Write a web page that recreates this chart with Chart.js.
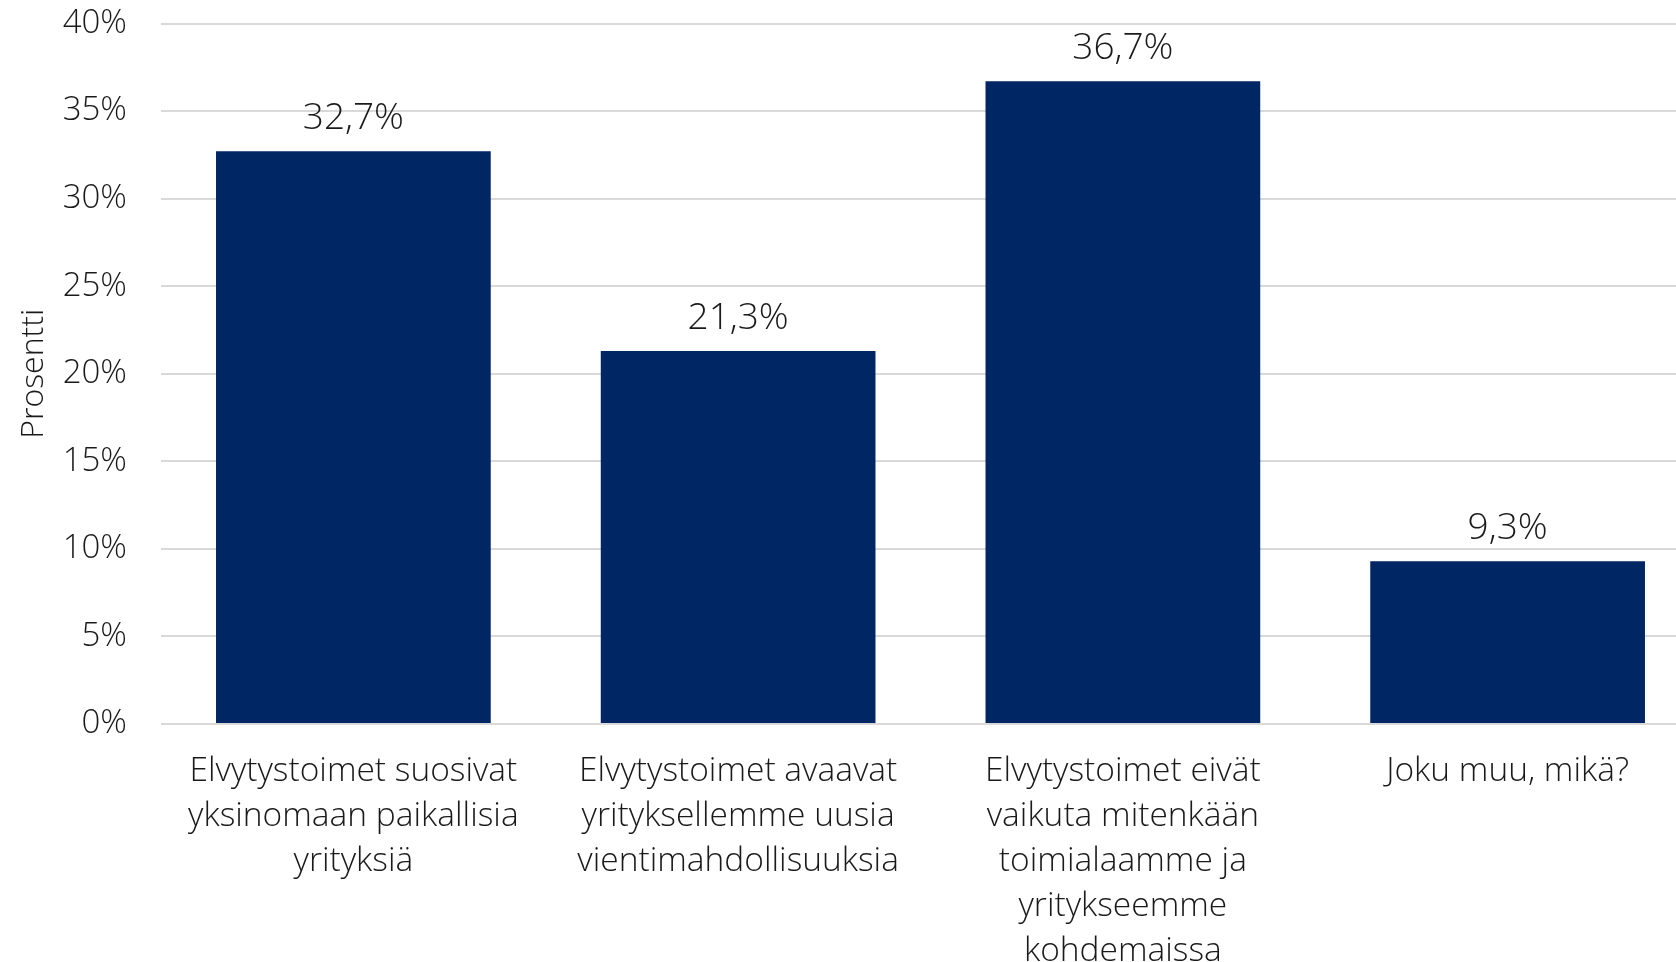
<!DOCTYPE html>
<html>
<head>
<meta charset="utf-8">
<script src="https://cdn.jsdelivr.net/npm/chart.js@4"></script>
<style>
  html, body { margin: 0; padding: 0; background: #fff; overflow: hidden; }
  #wrap { width: 1700px; height: 962px; position: relative; }
</style>
</head>
<body>
<div id="wrap"><canvas id="myChart"></canvas></div>
<script>
const ctx = document.querySelector("#myChart");

// kategoriat (rivitetty kuten alkuperäisessä)
const categories = [
  ["Elvytystoimet suosivat", "yksinomaan paikallisia", "yrityksiä"],
  ["Elvytystoimet avaavat", "yrityksellemme uusia", "vientimahdollisuuksia"],
  ["Elvytystoimet eivät", "vaikuta mitenkään", "toimialaamme ja", "yritykseemme", "kohdemaissa"],
  ["Joku muu, mikä?"],
];
const values = [32.7, 21.3, 36.7, 9.3];
const yTicks = [0, 5, 10, 15, 20, 25, 30, 35, 40];

const FONT = "'Open Sans', 'Segoe UI', sans-serif";
const TEXT = "#1a1a1a";

// arvot palkkien päälle
const valueLabels = {
  id: "valueLabels",
  afterDatasetsDraw(chart) {
    const c = chart.ctx;
    const meta = chart.getDatasetMeta(0);
    c.save();
    c.font = "300 37px " + FONT;
    c.fillStyle = TEXT;
    c.textAlign = "center";
    c.textBaseline = "bottom";
    meta.data.forEach((bar, i) => {
      const txt = values[i].toFixed(1).replace(".", ",") + "%";
      c.fillText(txt, bar.x, bar.y - 14);
    });
    c.restore();
  },
};

const data = {
  labels: categories,
  datasets: [
    {
      data: values,
      backgroundColor: "#002663",
      barPercentage: 0.714,
      categoryPercentage: 1,
    },
  ],
};

const config = {
  type: "bar",
  data: data,
  plugins: [valueLabels],
  options: {
    responsive: true,
    maintainAspectRatio: false,
    animation: false,
    layout: { padding: { top: 23.5, right: 0, left: 0, bottom: 0 } },
    plugins: {
      legend: { display: false },
      tooltip: { enabled: false },
    },
    scales: {
      x: {
        grid: { display: false, drawTicks: false },
        border: { display: false },
        ticks: {
          color: TEXT,
          padding: 25,
          maxRotation: 0,
          autoSkip: false,
          font: { family: FONT, size: 33.5, weight: "300", lineHeight: 1.34 },
        },
        afterFit(scale) {
          scale.height = 238;
          scale.paddingLeft = 0;
          scale.paddingRight = 0;
        },
      },
      y: {
        min: 0,
        max: 40,
        afterBuildTicks(scale) { scale.ticks = yTicks.map((v) => ({ value: v })); },
        grid: { color: "#d9d9d9", lineWidth: 2, drawTicks: false },
        border: { display: false },
        ticks: {
          color: TEXT,
          padding: 34,
          font: { family: FONT, size: 33, weight: "300" },
          callback: (v) => v + "%",
        },
        title: {
          display: true,
          text: "Prosentti",
          color: TEXT,
          padding: { top: 15, bottom: 0 },
          font: { family: FONT, size: 32, weight: "300" },
        },
        afterFit(scale) {
          scale.width = 161;
          scale.paddingTop = 0;
          scale.paddingBottom = 0;
        },
      },
    },
  },
};

const myChart = new Chart(ctx, config);
</script>
</body>
</html>
